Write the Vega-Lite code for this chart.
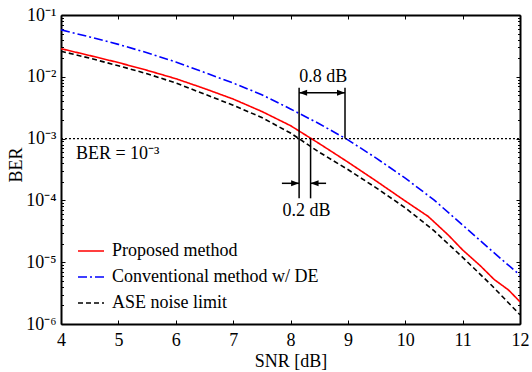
{
  "$schema": "https://vega.github.io/schema/vega-lite/v6.json",
  "width": 459,
  "height": 309,
  "autosize": "none",
  "padding": {"left": 61, "top": 15, "right": 12, "bottom": 48},
  "background": "white",
  "config": {
    "view": {"stroke": null},
    "font": "Liberation Serif",
    "axis": {"grid": false, "labelFont": "Liberation Serif", "titleFont": "Liberation Serif", "labelColor": "black", "titleColor": "black", "tickColor": "black", "domainColor": "black", "labelFontSize": 18, "titleFontSize": 18, "titleFontWeight": "normal"}
  },
  "datasets": {
    "curves": [
      {"snr": 4, "ber": 0.0285, "series": "Proposed method"},
      {"snr": 4.5, "ber": 0.0221, "series": "Proposed method"},
      {"snr": 5, "ber": 0.0170, "series": "Proposed method"},
      {"snr": 5.5, "ber": 0.01274, "series": "Proposed method"},
      {"snr": 6, "ber": 0.00933, "series": "Proposed method"},
      {"snr": 6.5, "ber": 0.00646, "series": "Proposed method"},
      {"snr": 7, "ber": 0.00437, "series": "Proposed method"},
      {"snr": 7.5, "ber": 0.00275, "series": "Proposed method"},
      {"snr": 8, "ber": 0.00162, "series": "Proposed method"},
      {"snr": 8.5, "ber": 0.000832, "series": "Proposed method"},
      {"snr": 9, "ber": 0.000417, "series": "Proposed method"},
      {"snr": 9.5, "ber": 0.000204, "series": "Proposed method"},
      {"snr": 10, "ber": 0.0000977, "series": "Proposed method"},
      {"snr": 10.4, "ber": 0.0000550, "series": "Proposed method"},
      {"snr": 10.75, "ber": 0.0000275, "series": "Proposed method"},
      {"snr": 11, "ber": 0.0000158, "series": "Proposed method"},
      {"snr": 11.3, "ber": 0.00000891, "series": "Proposed method"},
      {"snr": 11.55, "ber": 0.00000525, "series": "Proposed method"},
      {"snr": 11.8, "ber": 0.00000355, "series": "Proposed method"},
      {"snr": 12, "ber": 0.00000229, "series": "Proposed method"},
      {"snr": 4, "ber": 0.0575, "series": "Conventional method w/ DE"},
      {"snr": 4.5, "ber": 0.0442, "series": "Conventional method w/ DE"},
      {"snr": 5, "ber": 0.0335, "series": "Conventional method w/ DE"},
      {"snr": 5.5, "ber": 0.0245, "series": "Conventional method w/ DE"},
      {"snr": 6, "ber": 0.0174, "series": "Conventional method w/ DE"},
      {"snr": 6.5, "ber": 0.01175, "series": "Conventional method w/ DE"},
      {"snr": 7, "ber": 0.00794, "series": "Conventional method w/ DE"},
      {"snr": 7.5, "ber": 0.00513, "series": "Conventional method w/ DE"},
      {"snr": 8, "ber": 0.00302, "series": "Conventional method w/ DE"},
      {"snr": 8.5, "ber": 0.00174, "series": "Conventional method w/ DE"},
      {"snr": 9, "ber": 0.000955, "series": "Conventional method w/ DE"},
      {"snr": 9.5, "ber": 0.000479, "series": "Conventional method w/ DE"},
      {"snr": 10, "ber": 0.000229, "series": "Conventional method w/ DE"},
      {"snr": 10.5, "ber": 0.000102, "series": "Conventional method w/ DE"},
      {"snr": 11, "ber": 0.0000398, "series": "Conventional method w/ DE"},
      {"snr": 11.5, "ber": 0.0000155, "series": "Conventional method w/ DE"},
      {"snr": 12, "ber": 0.00000617, "series": "Conventional method w/ DE"},
      {"snr": 4, "ber": 0.0259, "series": "ASE noise limit"},
      {"snr": 4.5, "ber": 0.0200, "series": "ASE noise limit"},
      {"snr": 5, "ber": 0.0151, "series": "ASE noise limit"},
      {"snr": 5.5, "ber": 0.01122, "series": "ASE noise limit"},
      {"snr": 6, "ber": 0.00794, "series": "ASE noise limit"},
      {"snr": 6.5, "ber": 0.00525, "series": "ASE noise limit"},
      {"snr": 7, "ber": 0.00347, "series": "ASE noise limit"},
      {"snr": 7.5, "ber": 0.00219, "series": "ASE noise limit"},
      {"snr": 8, "ber": 0.00123, "series": "ASE noise limit"},
      {"snr": 8.5, "ber": 0.000603, "series": "ASE noise limit"},
      {"snr": 9, "ber": 0.000316, "series": "ASE noise limit"},
      {"snr": 9.5, "ber": 0.000158, "series": "ASE noise limit"},
      {"snr": 10, "ber": 0.0000759, "series": "ASE noise limit"},
      {"snr": 10.5, "ber": 0.0000324, "series": "ASE noise limit"},
      {"snr": 11, "ber": 0.0000120, "series": "ASE noise limit"},
      {"snr": 11.5, "ber": 0.00000427, "series": "ASE noise limit"},
      {"snr": 12, "ber": 0.00000141, "series": "ASE noise limit"}
    ],
    "threshold": [{"x1": 4, "x2": 12, "ber": 0.001}],
    "vlines": [
      {"snr": 8.15, "y1": 0.00667, "y2": 0.000108},
      {"snr": 8.35, "y1": 0.001, "y2": 0.000108},
      {"snr": 8.95, "y1": 0.00667, "y2": 0.001}
    ],
    "shafts": [
      {"x1": 8.15, "x2": 8.95, "ber": 0.00553},
      {"x1": 7.85, "x2": 8.15, "ber": 0.000189},
      {"x1": 8.35, "x2": 8.62, "ber": 0.000189}
    ],
    "heads": [
      {"snr": 8.15, "ber": 0.00553, "dir": "left"},
      {"snr": 8.95, "ber": 0.00553, "dir": "right"},
      {"snr": 8.15, "ber": 0.000189, "dir": "right"},
      {"snr": 8.35, "ber": 0.000189, "dir": "left"}
    ],
    "labelsCenter": [
      {"snr": 8.57, "ber": 0.00834, "text": "0.8 dB"},
      {"snr": 8.28, "ber": 0.0000565, "text": "0.2 dB"}
    ],
    "labelsLeft": [
      {"snr": 4.26, "ber": 0.000468, "text": "BER = 10⁻³"}
    ]
  },
  "layer": [
    {
      "data": {"name": "curves"},
      "mark": {"type": "line", "strokeWidth": 1.6, "clip": true},
      "encoding": {
        "x": {"field": "snr", "type": "quantitative",
          "scale": {"domain": [4, 12], "nice": false, "zero": false},
          "axis": {"orient": "bottom", "values": [4, 5, 6, 7, 8, 9, 10, 11, 12], "format": "d", "tickSize": -4, "domainWidth": 2, "labelPadding": 11, "labelFlush": false, "labelOverlap": false, "title": "SNR [dB]", "titleY": 42, "titleBaseline": "alphabetic"}},
        "y": {"field": "ber", "type": "quantitative",
          "scale": {"type": "log", "domain": [0.000001, 0.1], "nice": false},
          "axis": {"orient": "left", "values": [0.1, 0.01, 0.001, 0.0001, 0.00001, 0.000001], "tickSize": -4, "domainWidth": 2, "labelPadding": 9, "labelFlush": false, "labelOverlap": false,
            "labelExpr": "datum.value == 0.1 ? '10⁻¹' : datum.value == 0.01 ? '10⁻²' : datum.value == 0.001 ? '10⁻³' : datum.value == 0.0001 ? '10⁻⁴' : datum.value == 0.00001 ? '10⁻⁵' : '10⁻⁶'",
            "title": "BER", "titleX": -44.5, "titleY": 149.5, "titleBaseline": "middle", "titleAlign": "center"}},
        "color": {"field": "series", "type": "nominal",
          "scale": {"domain": ["Proposed method", "Conventional method w/ DE", "ASE noise limit"], "range": ["#ff0000", "#0000ff", "#000000"]},
          "legend": {"orient": "none", "legendX": 16, "legendY": 222, "title": null, "padding": 0, "symbolType": "stroke", "symbolSize": 676, "symbolStrokeWidth": 1.6, "labelFont": "Liberation Serif", "labelFontSize": 18, "labelColor": "black", "labelOffset": 7, "rowPadding": 3, "labelLimit": 400}},
        "strokeDash": {"field": "series", "type": "nominal",
          "scale": {"domain": ["Proposed method", "Conventional method w/ DE", "ASE noise limit"], "range": [[1, 0], [9, 3, 2, 3], [5, 3]]},
          "legend": {"orient": "none", "legendX": 16, "legendY": 222, "title": null, "padding": 0, "symbolType": "stroke", "symbolSize": 676, "symbolStrokeWidth": 1.6, "labelFont": "Liberation Serif", "labelFontSize": 18, "labelColor": "black", "labelOffset": 7, "rowPadding": 3, "labelLimit": 400}}
      }
    },
    {
      "data": {"name": "threshold"},
      "mark": {"type": "rule", "color": "black", "strokeWidth": 1.3, "strokeDash": [2, 2]},
      "encoding": {
        "x": {"field": "x1", "type": "quantitative", "scale": {"domain": [4, 12], "nice": false, "zero": false},
          "axis": {"orient": "top", "values": [4, 5, 6, 7, 8, 9, 10, 11, 12], "labels": false, "tickSize": -4, "domainWidth": 2, "title": null}},
        "x2": {"field": "x2"},
        "y": {"field": "ber", "type": "quantitative", "scale": {"type": "log", "domain": [0.000001, 0.1], "nice": false},
          "axis": {"orient": "right", "values": [0.1, 0.01, 0.001, 0.0001, 0.00001, 0.000001], "labels": false, "tickSize": -4, "domainWidth": 2, "title": null}}
      }
    },
    {
      "data": {"name": "vlines"},
      "mark": {"type": "rule", "color": "black", "strokeWidth": 1.5},
      "encoding": {
        "x": {"field": "snr", "type": "quantitative", "scale": {"domain": [4, 12], "nice": false, "zero": false}, "axis": null},
        "y": {"field": "y1", "type": "quantitative", "scale": {"type": "log", "domain": [0.000001, 0.1], "nice": false},
          "axis": {"orient": "left", "values": [0.09, 0.08, 0.07, 0.06, 0.05, 0.04, 0.03, 0.02, 0.009, 0.008, 0.007, 0.006, 0.005, 0.004, 0.003, 0.002, 0.0009, 0.0008, 0.0007, 0.0006, 0.0005, 0.0004, 0.0003, 0.0002, 0.00009, 0.00008, 0.00007, 0.00006, 0.00005, 0.00004, 0.00003, 0.00002, 0.000009, 0.000008, 0.000007, 0.000006, 0.000005, 0.000004, 0.000003, 0.000002], "labels": false, "domain": false, "tickSize": -2.5, "title": null}},
        "y2": {"field": "y2"}
      }
    },
    {
      "data": {"name": "shafts"},
      "mark": {"type": "rule", "color": "black", "strokeWidth": 1.5},
      "encoding": {
        "x": {"field": "x1", "type": "quantitative", "scale": {"domain": [4, 12], "nice": false, "zero": false}, "axis": null},
        "x2": {"field": "x2"},
        "y": {"field": "ber", "type": "quantitative", "scale": {"type": "log", "domain": [0.000001, 0.1], "nice": false},
          "axis": {"orient": "right", "values": [0.09, 0.08, 0.07, 0.06, 0.05, 0.04, 0.03, 0.02, 0.009, 0.008, 0.007, 0.006, 0.005, 0.004, 0.003, 0.002, 0.0009, 0.0008, 0.0007, 0.0006, 0.0005, 0.0004, 0.0003, 0.0002, 0.00009, 0.00008, 0.00007, 0.00006, 0.00005, 0.00004, 0.00003, 0.00002, 0.000009, 0.000008, 0.000007, 0.000006, 0.000005, 0.000004, 0.000003, 0.000002], "labels": false, "domain": false, "tickSize": -2.5, "title": null}}
      }
    },
    {
      "data": {"name": "heads"},
      "mark": {"type": "point", "filled": true, "color": "black", "opacity": 1, "size": 256, "strokeWidth": 0},
      "encoding": {
        "x": {"field": "snr", "type": "quantitative", "scale": {"domain": [4, 12], "nice": false, "zero": false}, "axis": null},
        "y": {"field": "ber", "type": "quantitative", "scale": {"type": "log", "domain": [0.000001, 0.1], "nice": false}, "axis": null},
        "shape": {"field": "dir", "type": "nominal", "scale": {"domain": ["left", "right"], "range": ["M0,0L1,-0.375L1,0.375Z", "M0,0L-1,-0.375L-1,0.375Z"]}, "legend": null}
      }
    },
    {
      "data": {"name": "labelsCenter"},
      "mark": {"type": "text", "font": "Liberation Serif", "fontSize": 18, "color": "black", "align": "center", "baseline": "alphabetic"},
      "encoding": {
        "x": {"field": "snr", "type": "quantitative", "scale": {"domain": [4, 12], "nice": false, "zero": false}, "axis": null},
        "y": {"field": "ber", "type": "quantitative", "scale": {"type": "log", "domain": [0.000001, 0.1], "nice": false}, "axis": null},
        "text": {"field": "text"}
      }
    },
    {
      "data": {"name": "labelsLeft"},
      "mark": {"type": "text", "font": "Liberation Serif", "fontSize": 18, "color": "black", "align": "left", "baseline": "alphabetic"},
      "encoding": {
        "x": {"field": "snr", "type": "quantitative", "scale": {"domain": [4, 12], "nice": false, "zero": false}, "axis": null},
        "y": {"field": "ber", "type": "quantitative", "scale": {"type": "log", "domain": [0.000001, 0.1], "nice": false}, "axis": null},
        "text": {"field": "text"}
      }
    }
  ],
  "resolve": {"axis": {"x": "independent", "y": "independent"}}
}
